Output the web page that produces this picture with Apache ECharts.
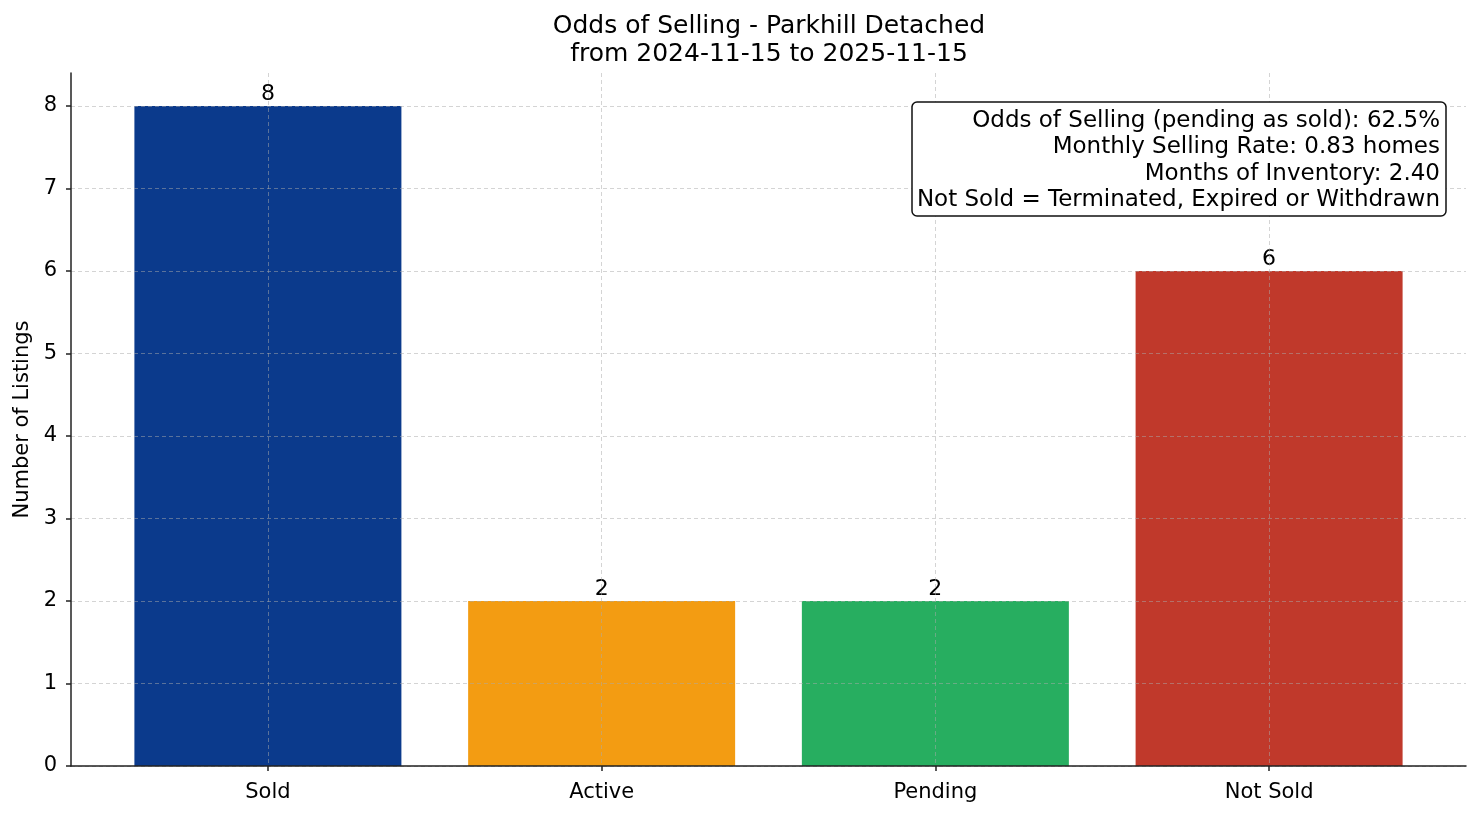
<!DOCTYPE html>
<html>
<head>
<meta charset="utf-8">
<script src="https://cdn.jsdelivr.net/npm/echarts@6/dist/echarts.min.js"></script>
<style>
  html, body { margin: 0; padding: 0; background: #fff; }
  #chart { width: 1481px; height: 816px; }
</style>
</head>
<body>
<div id="chart"></div>
<script>
// data
const categories = ['Sold', 'Active', 'Pending', 'Not Sold'];
const listingCounts = [8, 2, 2, 6];
const barColors = ['#0b3a8c', '#f39c12', '#27ae60', '#c0392b'];
const yTicks = [0, 1, 2, 3, 4, 5, 6, 7, 8];
const xTicks = [0, 1, 2, 3];
const titleLines = ['Odds of Selling - Parkhill Detached', 'from 2024-11-15 to 2025-11-15'];
const statLines = [
    'Odds of Selling (pending as sold): 62.5%',
    'Monthly Selling Rate: 0.83 homes',
    'Months of Inventory: 2.40',
    'Not Sold = Terminated, Expired or Withdrawn'
];

const FONT = 'DejaVu Sans';
const gridLine = { show: true, lineStyle: { color: 'rgba(170,170,170,0.5)', width: 1, type: [4, 3] } };

const chart = echarts.init(document.getElementById('chart'));
chart.setOption({
    animation: false,
    textStyle: { fontFamily: FONT },
    title: [{
        // centred over the plot area, not the page
        text: titleLines.join('\n'),
        left: 764,
        top: 7,
        textAlign: 'center',
        textStyle: { fontFamily: FONT, fontSize: 25, fontWeight: 'normal', color: '#000', lineHeight: 28 }
    }, {
        // stats box, top right (anchored on its right edge)
        text: statLines.join('\n'),
        left: 1435,
        top: 102,
        textAlign: 'right',
        backgroundColor: '#fff',
        borderColor: '#111',
        borderWidth: 1.5,
        borderRadius: 5,
        padding: [6, 6, 3, 5],
        z: 10,
        textStyle: { fontFamily: FONT, fontSize: 23, fontWeight: 'normal', color: '#000', lineHeight: 26.3, align: 'right' }
    }],
    grid: { left: 71, right: 15, top: 73, bottom: 50, containLabel: false, outerBoundsMode: 'none' },
    xAxis: {
        type: 'value',
        min: -0.59,
        max: 3.59,
        z: 3,
        axisLine: { show: true, onZero: false, lineStyle: { color: '#222', width: 1.5 } },
        axisTick: { show: true, length: 5, lineStyle: { color: '#222', width: 1.5 }, customValues: xTicks },
        axisLabel: {
            customValues: xTicks,
            formatter: v => categories[Math.round(v)] || '',
            fontFamily: FONT, fontSize: 21, color: '#000', margin: 16
        },
        splitLine: gridLine
    },
    yAxis: {
        type: 'value',
        min: 0,
        max: 8.4,
        z: 3,
        name: 'Number of Listings',
        nameLocation: 'middle',
        nameGap: 30,
        nameTextStyle: { fontFamily: FONT, fontSize: 21, color: '#000' },
        axisLine: { show: true, onZero: false, lineStyle: { color: '#222', width: 1.5 } },
        axisTick: { show: true, length: 5, lineStyle: { color: '#222', width: 1.5 }, customValues: yTicks },
        axisLabel: { customValues: yTicks, fontFamily: FONT, fontSize: 21, color: '#000', margin: 14 },
        splitLine: gridLine
    },
    series: [{
        type: 'bar',
        barWidth: 267,
        data: listingCounts.map((v, i) => ({ value: [i, v], itemStyle: { color: barColors[i] } })),
        label: {
            show: true,
            position: 'top',
            distance: 1,
            formatter: p => p.value[1],
            fontFamily: FONT, fontSize: 22, color: '#000'
        }
    }]
});
</script>
</body>
</html>
